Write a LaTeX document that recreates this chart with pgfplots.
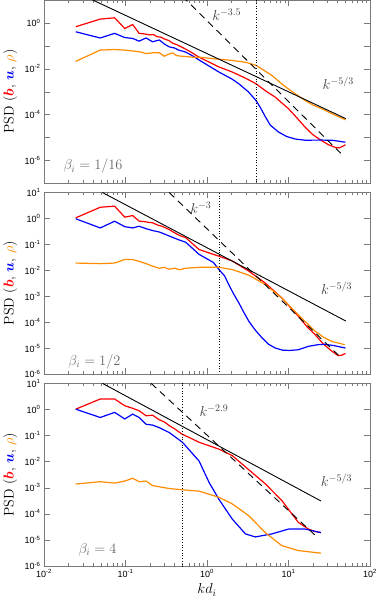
\documentclass[border=0pt]{standalone}
\usepackage{fontspec}
\usepackage{amsmath,bm}
\usepackage{pgfplots}
\pgfplotsset{compat=1.18}
\newfontfamily\hv{Liberation Sans}
\definecolor{cR}{HTML}{FF0000}
\definecolor{cB}{HTML}{0000FF}
\definecolor{cO}{HTML}{FF8C00}
\definecolor{frm}{HTML}{7A7A7A}
\newcommand{\tl}[1]{{\hv\fontsize{9}{10}\selectfont 10\textsuperscript{#1}}}
\newcommand{\lbl}{\fontsize{14}{16}\selectfont}
\newcommand{\psdlabel}{\lbl PSD ({\color{cR}$\bm{b}$}, {\color{cB}$\bm{u}$}, {\color{cO}$\rho$})}

\tikzset{
  dat/.style={line width=1.2pt},
  pl/.style={black, line width=0.9pt},
  pld/.style={black, line width=0.9pt, dash pattern=on 7pt off 5pt},
  vl/.style={black, line width=0.7pt, dotted},
}

\begin{document}
\begin{tikzpicture}
\useasboundingbox (0,0) rectangle (382pt,597pt);

% ---- beta_i = 1/16
\begin{axis}[at={(44pt,413.7pt)}, anchor=south west,
  xmode=log, ymode=log, scale only axis, width=326pt, height=183.3pt,
  xmin=1e-2, xmax=1e2, ymin=1e-7, ymax=1e1,
  axis line style={frm}, tick style={frm},
  major tick length=6pt, minor tick length=3pt,
  yminorticks=false,
  xtick={1e-2,1e-1,1e0,1e1,1e2}, xticklabels={},
  minor xtick={0.02,0.03,0.04,0.05,0.06,0.07,0.08,0.09,0.2,0.3,0.4,0.5,0.6,0.7,0.8,0.9,2,3,4,5,6,7,8,9,20,30,40,50,60,70,80,90},
  ytick={1e-6,1e-5,1e-4,1e-3,1e-2,1e-1,1e0},
  yticklabels={\tl{-6},,\tl{-4},,\tl{-2},,\tl{0}},
  ylabel={\psdlabel},
  ylabel style={at={(axis description cs:-0.104,0.5)}, anchor=center}]
\addplot[dat, cR] coordinates {
 (0.0245,0.68) (0.049,1.47) (0.0736,1.67) (0.098,0.57) (0.1225,0.85) (0.147,0.35)
 (0.172,0.33) (0.196,0.30) (0.22,0.31) (0.245,0.25) (0.27,0.24) (0.3,0.2) (0.34,0.17)
 (0.38,0.13) (0.43,0.11) (0.5,0.085) (0.6,0.06) (0.8,0.032) (1.4,0.012) (2.04,0.0072)
 (3,0.0038) (4,0.0022) (5.2,0.0011) (6.9,5.7e-4) (10,1.8e-4) (13,6.5e-5) (16,2.8e-5)
 (20,1.3e-5) (25.6,7.2e-6) (31,4.8e-6) (37.4,3.7e-6) (42,3.5e-6) (46,4.1e-6) (50,4.8e-6)};
\addplot[dat, cB] coordinates {
 (0.0245,0.41) (0.049,0.22) (0.0736,0.35) (0.098,0.23) (0.1225,0.21) (0.147,0.16)
 (0.179,0.22) (0.215,0.15) (0.26,0.18) (0.3,0.12) (0.344,0.09) (0.4,0.08) (0.45,0.065)
 (0.55,0.053) (0.7,0.033) (0.8,0.024) (1.4,0.0072) (2.04,0.0035) (2.46,0.0022)
 (3.2,0.0010) (4,4.1e-4) (4.6,1.8e-4) (5.2,8e-5) (6,3.4e-5) (7.6,1.7e-5) (9.5,1.1e-5)
 (12.2,8.5e-6) (16,7.6e-6) (25.6,7.7e-6) (35,7.5e-6) (50,6.2e-6)};
\addplot[dat, cO] coordinates {
 (0.0245,0.021) (0.049,0.065) (0.0736,0.069) (0.098,0.065) (0.15,0.055) (0.179,0.046)
 (0.22,0.05) (0.26,0.05) (0.3,0.035) (0.33,0.042) (0.38,0.049) (0.42,0.038) (0.456,0.036)
 (0.55,0.034) (0.66,0.032) (0.8,0.032) (1.4,0.026) (2.04,0.023) (3,0.019) (4,0.014)
 (5,0.0085) (6.25,0.0051) (8,0.0024) (10,0.0013) (13,6.8e-4) (16,4.1e-4) (20,2.6e-4)
 (25.6,1.8e-4) (34,1.1e-4) (42,7.8e-5) (50,5.9e-5)};
\addplot[pl] coordinates {(0.0396,10) (50.6,6.6e-5)};
\addplot[pld] coordinates {(0.5,14.4) (44.3,1.95e-6)};
\addplot[vl] coordinates {(4,1e-8) (4,1e2)};
\node[text=black!75] at (axis cs:1.75,2.2) {\lbl$k^{-3.5}$};
\node[text=black!75] at (axis cs:40.8,2.3e-3) {\lbl$k^{-5/3}$};
\node[text=black!60, anchor=west] at (axis description cs:0.049,0.093) {\lbl$\beta_i=1/16$};
\end{axis}

% ---- beta_i = 1/2
\begin{axis}[at={(44pt,223pt)}, anchor=south west,
  xmode=log, ymode=log, scale only axis, width=326pt, height=181.5pt,
  xmin=1e-2, xmax=1e2, ymin=1e-6, ymax=1e1,
  axis line style={frm}, tick style={frm},
  major tick length=6pt, minor tick length=3pt,
  yminorticks=false,
  xtick={1e-2,1e-1,1e0,1e1,1e2}, xticklabels={},
  minor xtick={0.02,0.03,0.04,0.05,0.06,0.07,0.08,0.09,0.2,0.3,0.4,0.5,0.6,0.7,0.8,0.9,2,3,4,5,6,7,8,9,20,30,40,50,60,70,80,90},
  ytick={1e-6,1e-5,1e-4,1e-3,1e-2,1e-1,1e0,1e1},
  yticklabels={\tl{-6},\tl{-5},\tl{-4},\tl{-3},\tl{-2},\tl{-1},\tl{0},\tl{1}},
  ylabel={\psdlabel},
  ylabel style={at={(axis description cs:-0.104,0.5)}, anchor=center}]
\addplot[dat, cR] coordinates {
 (0.0245,1.05) (0.049,2.7) (0.0736,2.97) (0.098,1.12) (0.1225,1.29) (0.147,0.79)
 (0.172,0.75) (0.196,0.7) (0.215,0.68) (0.25,0.55) (0.28,0.5) (0.344,0.37) (0.4,0.28)
 (0.46,0.22) (0.55,0.18) (0.8,0.063) (1.4,0.035) (2.04,0.023) (3.25,0.0093)
 (5.2,0.0032) (8.3,8.5e-4) (13.2,1.7e-4) (17,6.5e-5) (21.2,3.3e-5) (27,1.4e-5)
 (34,7.6e-6) (40.7,5.1e-6) (45,5.3e-6) (50,6.2e-6)};
\addplot[dat, cB] coordinates {
 (0.0245,0.97) (0.049,0.43) (0.0736,0.78) (0.098,0.48) (0.1225,0.43) (0.147,0.5)
 (0.18,0.4) (0.215,0.34) (0.26,0.3) (0.344,0.21) (0.45,0.15) (0.55,0.12) (0.8,0.041)
 (1.2,0.02) (1.4,0.0107) (1.65,0.006) (1.85,0.0028) (2.1,0.0013) (2.46,5.5e-4)
 (2.85,2.3e-4) (3.25,1.1e-4) (3.9,5e-5) (4.72,2.5e-5) (5.7,1.4e-5) (6.9,1e-5)
 (8.5,8.3e-6) (10.3,8.1e-6) (13.2,8.6e-6) (17.6,1.17e-5) (23,1.35e-5) (28,1.4e-5)
 (36,1.25e-5) (50,1e-5)};
\addplot[dat, cO] coordinates {
 (0.0245,0.019) (0.049,0.018) (0.0736,0.019) (0.098,0.026) (0.1225,0.026) (0.147,0.022)
 (0.18,0.018) (0.215,0.0144) (0.26,0.012) (0.3,0.013) (0.34,0.011) (0.4,0.012)
 (0.46,0.0105) (0.55,0.012) (0.8,0.013) (1.4,0.013) (2.04,0.0107) (3.25,0.0065)
 (5.2,0.0028) (8.3,8.5e-4) (13.2,1.9e-4) (21.2,4.5e-5) (27,2.6e-5) (34,1.8e-5)
 (49,1.35e-5)};
\addplot[pl] coordinates {(0.052,10) (50.6,1.1e-4)};
\addplot[pld] coordinates {(0.344,10) (42.7,4.7e-6)};
\addplot[vl] coordinates {(1.414,1e-8) (1.414,1e2)};
\node[text=black!75] at (axis cs:0.84,2.5) {\lbl$k^{-3}$};
\node[text=black!75] at (axis cs:39,2e-3) {\lbl$k^{-5/3}$};
\node[text=black!60, anchor=west] at (axis description cs:0.064,0.068) {\lbl$\beta_i=1/2$};
\end{axis}

% ---- beta_i = 4
\begin{axis}[at={(44pt,31pt)}, anchor=south west,
  xmode=log, ymode=log, scale only axis, width=326pt, height=182.7pt,
  xmin=1e-2, xmax=1e2, ymin=1e-6, ymax=1e1,
  axis line style={frm}, tick style={frm},
  major tick length=6pt, minor tick length=3pt,
  yminorticks=false,
  xtick={1e-2,1e-1,1e0,1e1,1e2},
  minor xtick={0.02,0.03,0.04,0.05,0.06,0.07,0.08,0.09,0.2,0.3,0.4,0.5,0.6,0.7,0.8,0.9,2,3,4,5,6,7,8,9,20,30,40,50,60,70,80,90},
  xticklabels={\tl{-2},\tl{-1},\tl{0},\tl{1},\tl{2}},
  ytick={1e-6,1e-5,1e-4,1e-3,1e-2,1e-1,1e0,1e1},
  yticklabels={\tl{-6},\tl{-5},\tl{-4},\tl{-3},\tl{-2},\tl{-1},\tl{0},\tl{1}},
  ylabel={\psdlabel},
  ylabel style={at={(axis description cs:-0.104,0.5)}, anchor=center},
  xlabel={\lbl$kd_i$},
  xlabel style={at={(axis description cs:0.5,-0.131)}, anchor=center}]
\addplot[dat, cR] coordinates {
 (0.0245,1.02) (0.049,2.5) (0.0736,2.5) (0.098,1.38) (0.1225,1.1) (0.147,0.89)
 (0.179,0.57) (0.215,0.6) (0.26,0.4) (0.3,0.33) (0.344,0.24) (0.4,0.18) (0.5,0.11)
 (0.6,0.085) (0.8,0.055) (1.4,0.03) (2.04,0.017) (3.25,0.0049) (5.2,0.0014)
 (8.3,3.2e-4) (13.2,4.7e-5) (17.6,2.6e-5) (21,2.1e-5) (25,1.9e-5)};
\addplot[dat, cB] coordinates {
 (0.0245,1.02) (0.049,0.49) (0.0736,0.77) (0.098,0.43) (0.1225,0.66) (0.147,0.49)
 (0.179,0.27) (0.215,0.25) (0.26,0.2) (0.344,0.13) (0.5,0.055) (0.8,0.0105)
 (1.06,0.0016) (1.4,3.6e-4) (2.04,6.3e-5) (2.96,1.7e-5) (3.92,1.3e-5) (6.25,1.7e-5)
 (10,2.6e-5) (16,2.6e-5) (25,1.9e-5)};
\addplot[dat, cO] coordinates {
 (0.0245,1.38e-3) (0.049,1.7e-3) (0.0736,1.5e-3) (0.098,1.8e-3) (0.1225,2.3e-3)
 (0.147,1.7e-3) (0.179,1.8e-3) (0.215,1.2e-3) (0.344,9.3e-4) (0.5,8.3e-4) (0.8,7.4e-4)
 (1.4,4.3e-4) (2.04,2.4e-4) (3.25,8.5e-5) (5.2,1.9e-5) (8.3,6e-6) (13.2,3.9e-6)
 (25,3.1e-6)};
\addplot[pl] coordinates {(0.052,10) (25,3.1e-4)};
\addplot[pld] coordinates {(0.206,10) (22.1,1.35e-5)};
\addplot[vl] coordinates {(0.5,1e-8) (0.5,1e2)};
\node[text=black!75] at (axis cs:1.22,0.9) {\lbl$k^{-2.9}$};
\node[text=black!75] at (axis cs:38.8,1.9e-3) {\lbl$k^{-5/3}$};
\node[text=black!60, anchor=west] at (axis description cs:0.095,0.088) {\lbl$\beta_i=4$};
\end{axis}
\end{tikzpicture}
\end{document}
